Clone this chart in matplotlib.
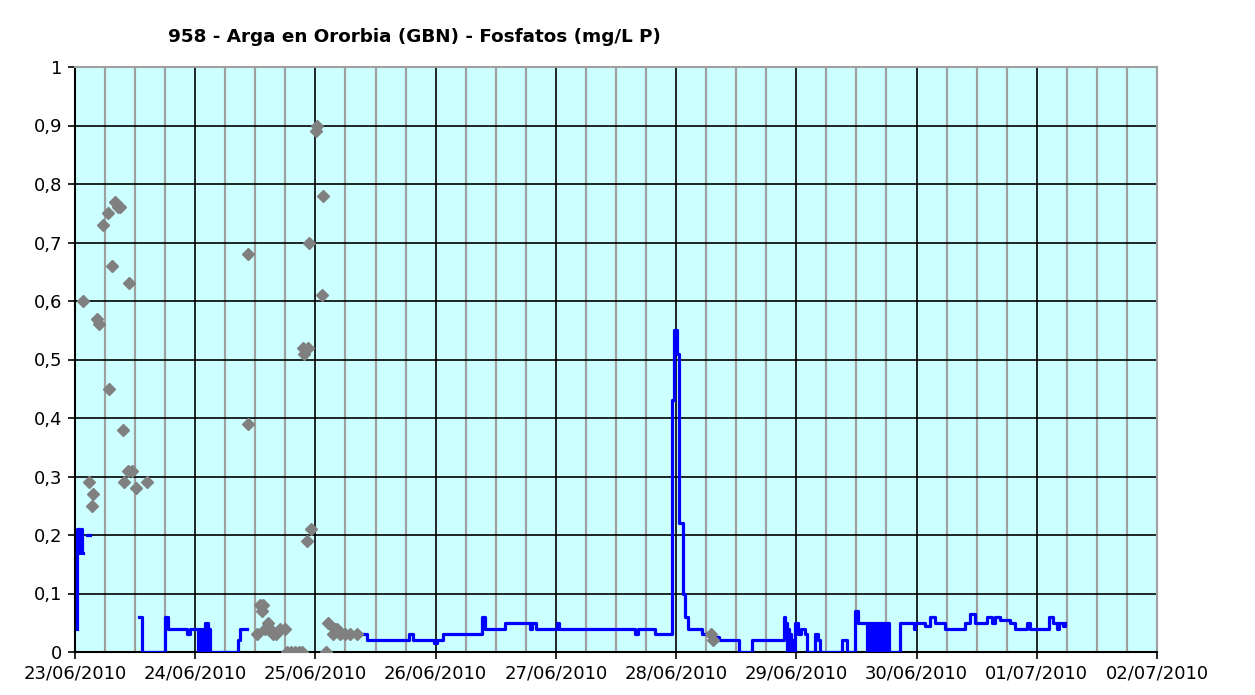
import numpy as np
import matplotlib.pyplot as plt
from matplotlib.ticker import MultipleLocator, FixedLocator, FixedFormatter

title = '958 - Arga en Ororbia (GBN) - Fosfatos (mg/L P)'
day_labels = ['23/06/2010', '24/06/2010', '25/06/2010', '26/06/2010', '27/06/2010',
              '28/06/2010', '29/06/2010', '30/06/2010', '01/07/2010', '02/07/2010']
y_ticks = [0, 0.1, 0.2, 0.3, 0.4, 0.5, 0.6, 0.7, 0.8, 0.9, 1]
y_labels = ['0', '0,1', '0,2', '0,3', '0,4', '0,5', '0,6', '0,7', '0,8', '0,9', '1']
nan = np.nan

# grey points (lab samples): hours since 23/06/2010 00:00, mg/L P
lab_h = [1.66, 2.74, 3.39, 3.65, 4.45, 4.79, 5.65, 6.53, 6.79, 7.45, 7.99, 8.65, 8.99,
         9.52, 9.84, 10.64, 10.84, 11.32, 12.12, 14.32,
         34.49, 34.6, 36.4, 36.94, 37.28, 37.5, 37.94, 38.6, 38.9, 39.6, 40.1, 40.9, 41.9,
         42.3, 43.1, 43.9, 44.7, 45.4, 45.47, 45.8, 46.3, 46.5, 46.8, 47.1, 48.1, 48.3,
         49.3, 49.6, 50.1, 50.6, 51.6, 51.9, 52.3, 52.9, 53.9, 54.9, 56.2,
         127.0, 127.4]
lab_v = [0.60, 0.29, 0.25, 0.27, 0.57, 0.56, 0.73, 0.75, 0.45, 0.66, 0.77, 0.76, 0.76,
         0.38, 0.29, 0.31, 0.63, 0.31, 0.28, 0.29,
         0.68, 0.39, 0.03, 0.08, 0.07, 0.08, 0.04, 0.05, 0.04, 0.03, 0.03, 0.04, 0.04,
         0.0, 0.0, 0.0, 0.0, 0.0, 0.52, 0.51, 0.19, 0.52, 0.70, 0.21, 0.89, 0.90,
         0.61, 0.78, 0.0, 0.05, 0.03, 0.04, 0.04, 0.03, 0.03, 0.03, 0.03,
         0.03, 0.02]

# blue line (continuous analyser), nan = no data
probe_h = [0.30, 0.35, 0.5, 0.6, 0.7, 0.8, 0.9, 1.0, 1.1, 1.2, 1.3, 1.4, 1.5,
           2.3, 2.8, 2.9,
           12.8, 13.3, 18.0, 18.6, 22.3, 23.0, 24.6, 24.8, 25.0, 25.2, 25.4, 25.6, 25.8,
           26.0, 26.2, 26.4, 26.6, 26.8, 27.0, 27.4, 32.5, 32.9, 34.3, 34.4,
           56.6, 58.2, 66.6, 67.5, 71.6, 72.2, 73.4, 81.2, 81.9, 85.9, 90.9, 91.3, 92.0,
           96.2, 96.6, 111.8, 112.4, 115.8, 119.1, 119.2, 119.5, 120.1, 120.5, 121.3,
           121.8, 122.3, 125.1, 126.8, 128.5, 132.5, 135.1, 141.5, 141.8, 142.1, 142.3,
           142.5, 142.7, 142.9, 143.1, 143.4, 143.8, 144.4, 145.0, 145.8, 146.1, 147.8,
           148.4, 148.8, 153.1, 154.1, 155.8, 156.4, 158.1, 158.4, 158.7, 159.0, 159.3,
           159.6, 159.9, 160.2, 160.5, 160.8, 161.1, 161.4, 161.7, 162.0, 162.4, 164.7,
           167.4, 167.7, 169.7, 170.7, 171.7, 173.7, 177.7, 178.7, 179.7, 182.0, 183.0,
           183.7, 184.7, 186.7, 187.7, 190.0, 190.7, 194.4, 195.3, 196.0, 196.5, 197.2,
           197.7]
probe_v = [0.04, 0.21, 0.17, 0.21, 0.18, 0.21, 0.17, 0.20, 0.17, 0.21, 0.17, 0.17, nan,
           0.20, 0.20, nan,
           0.06, 0.0, 0.06, 0.04, 0.03, 0.04, 0.0, 0.04, 0.0, 0.04, 0.0, 0.04, 0.0,
           0.05, 0.0, 0.05, 0.0, 0.04, 0.0, 0.0, 0.02, 0.04, 0.04, nan,
           0.03, 0.02, 0.03, 0.02, 0.015, 0.02, 0.03, 0.06, 0.04, 0.05, 0.04, 0.05, 0.04,
           0.05, 0.04, 0.03, 0.04, 0.03, 0.10, 0.43, 0.55, 0.51, 0.22, 0.10,
           0.06, 0.04, 0.03, 0.025, 0.02, 0.0, 0.02, 0.06, 0.05, 0.0, 0.04,
           0.0, 0.03, 0.0, 0.02, 0.0, 0.05, 0.03, 0.04, 0.03, 0.0, 0.03,
           0.02, 0.0, 0.02, 0.0, 0.07, 0.05, 0.0, 0.05, 0.0, 0.05, 0.0,
           0.05, 0.0, 0.05, 0.0, 0.05, 0.0, 0.05, 0.0, 0.05, 0.0, 0.05,
           0.04, 0.05, 0.045, 0.06, 0.05, 0.04, 0.05, 0.065, 0.05, 0.06, 0.05,
           0.06, 0.055, 0.05, 0.04, 0.05, 0.04, 0.06, 0.05, 0.04, 0.05, 0.045,
           0.05]

fig = plt.figure(figsize=(12.55, 6.95), dpi=100)
ax = fig.add_axes([75 / 1255, 43 / 695, 1082 / 1255, 585 / 695])
ax.set_facecolor('#CCFFFF')

ax.plot(probe_h, probe_v, color='#0000FF', lw=2.3, drawstyle='steps-post', zorder=3)
ax.plot(lab_h, lab_v, ls='none', marker='D', ms=6, color='#808080', zorder=4)

ax.set_xlim(0, 216)
ax.set_ylim(0, 1)
ax.xaxis.set_major_locator(FixedLocator([24 * i for i in range(len(day_labels))]))
ax.xaxis.set_major_formatter(FixedFormatter(day_labels))
ax.xaxis.set_minor_locator(MultipleLocator(6))
ax.yaxis.set_major_locator(FixedLocator(y_ticks))
ax.yaxis.set_major_formatter(FixedFormatter(y_labels))

ax.grid(which='minor', axis='x', color='#A0A0A0', lw=1.6, zorder=0)
ax.grid(which='major', color='black', lw=1.2, zorder=1)
ax.set_axisbelow(True)
ax.tick_params(which='minor', length=0)
ax.tick_params(which='major', direction='out', length=5, width=1.2, labelsize=13, pad=4)

for s in ['left', 'bottom']:
    ax.spines[s].set_color('black')
    ax.spines[s].set_linewidth(1.5)
for s in ['top', 'right']:
    ax.spines[s].set_color('#A0A0A0')
    ax.spines[s].set_linewidth(1.5)

fig.text(168 / 1255, 1 - 37 / 695, title, fontsize=13.2, fontweight='bold', va='center')

fig.savefig('out.png', dpi=100)
